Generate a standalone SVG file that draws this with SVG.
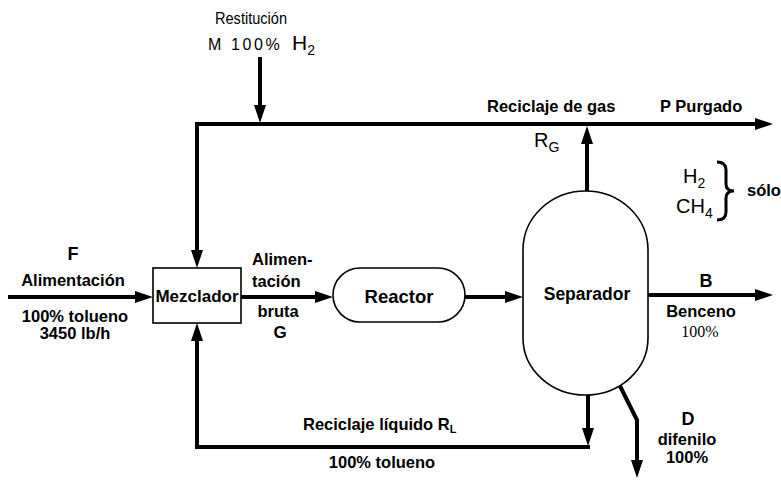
<svg xmlns="http://www.w3.org/2000/svg" width="781" height="482" viewBox="0 0 781 482">
<defs>
<marker id="ah" markerUnits="userSpaceOnUse" markerWidth="20" markerHeight="12" refX="8" refY="6" orient="auto-start-reverse" overflow="visible">
<path d="M0,0 L18,6 L0,12 Z" fill="#000"/>
</marker>
<style>
.b{font-family:"Liberation Sans",Arial,sans-serif;font-weight:bold;font-size:16.5px;fill:#000}
.r{font-family:"Liberation Sans",Arial,sans-serif;font-size:16px;fill:#000}
.s{font-family:"Liberation Serif","Times New Roman",serif;font-size:16px;fill:#000}
.c{fill:none;stroke:#000;stroke-width:4}
.n{fill:#fff;stroke:#000;stroke-width:1.6}
</style>
</defs>
<rect width="781" height="482" fill="#fff"/>
<g id="connectors">
<path class="c" d="M260,57 V113" marker-end="url(#ah)"/>
<path class="c" d="M763,124 H197 V258" marker-start="url(#ah)" marker-end="url(#ah)"/>
<path class="c" d="M587,191 V136" marker-end="url(#ah)"/>
<path class="c" d="M8,297 H143" marker-end="url(#ah)"/>
<path class="c" d="M241,297 H323" marker-end="url(#ah)"/>
<path class="c" d="M465,297 H513" marker-end="url(#ah)"/>
<path class="c" d="M648,295 H763" marker-end="url(#ah)"/>
<path class="c" d="M588,395 V436" marker-end="url(#ah)"/>
<path class="c" d="M590,447 H197 V333" marker-end="url(#ah)"/>
<path class="c" d="M620,386 L637,420 V468" marker-end="url(#ah)"/>
</g>
<g id="mezclador">
<rect class="n" x="153" y="268" width="88" height="55"/>
<text class="b" x="197" y="302" text-anchor="middle" style="font-size:17px">Mezclador</text>
</g>
<g id="reactor">
<rect class="n" x="333" y="268" width="132" height="54" rx="27" ry="27"/>
<text class="b" x="399" y="303" text-anchor="middle" style="font-size:18.5px">Reactor</text>
</g>
<g id="separador">
<path class="n" d="M523,250 A62.5,59 0 0 1 648,250 L648,338 A62.5,57 0 0 1 523,338 Z"/>
<text class="b" x="587" y="300" text-anchor="middle" style="font-size:17.5px">Separador</text>
</g>
<g id="labels">
<text class="r" x="251" y="24" text-anchor="middle" textLength="72" lengthAdjust="spacingAndGlyphs">Restitución</text>
<text class="r" x="208" y="50" letter-spacing="2.6">M 100%</text>
<text class="r" x="292" y="50" style="font-size:21px">H<tspan style="font-size:14px" dy="5">2</tspan></text>
<text class="b" x="487" y="112">Reciclaje de gas</text>
<text class="b" x="660" y="112">P Purgado</text>
<text class="r" x="534" y="147" style="font-size:20px">R<tspan style="font-size:14px" dy="5">G</tspan></text>
<text class="r" x="683" y="183" style="font-size:20px">H<tspan style="font-size:14px" dy="5">2</tspan></text>
<text class="r" x="676" y="213" style="font-size:20px">CH<tspan style="font-size:14px" dy="5">4</tspan></text>
<path d="M717,162 Q726,162 726,170 V184 Q726,191 734,191 Q726,191 726,198 V212 Q726,220 717,220" fill="none" stroke="#000" stroke-width="3"/>
<text class="b" x="747" y="196">sólo</text>
<text class="b" x="73" y="260" text-anchor="middle" style="font-size:18px">F</text>
<text class="b" x="73" y="286" text-anchor="middle">Alimentación</text>
<text class="b" x="75" y="322" text-anchor="middle">100% tolueno</text>
<text class="b" x="75" y="339" text-anchor="middle">3450 lb/h</text>
<text class="b" x="252" y="265">Alimen-</text>
<text class="b" x="252" y="287">tación</text>
<text class="b" x="278" y="317" text-anchor="middle">bruta</text>
<text class="b" x="280" y="338" text-anchor="middle" style="font-size:17px">G</text>
<text class="b" x="706" y="287" text-anchor="middle" style="font-size:18px">B</text>
<text class="b" x="701" y="317" text-anchor="middle">Benceno</text>
<text class="s" x="700" y="337" text-anchor="middle">100%</text>
<text class="b" x="303" y="430">Reciclaje líquido R<tspan style="font-size:11px" dy="3">L</tspan></text>
<text class="b" x="382" y="468" text-anchor="middle">100% tolueno</text>
<text class="b" x="688" y="425" text-anchor="middle" style="font-size:18px">D</text>
<text class="b" x="687" y="445" text-anchor="middle">difenilo</text>
<text class="b" x="687" y="463" text-anchor="middle">100%</text>
</g>
</svg>
